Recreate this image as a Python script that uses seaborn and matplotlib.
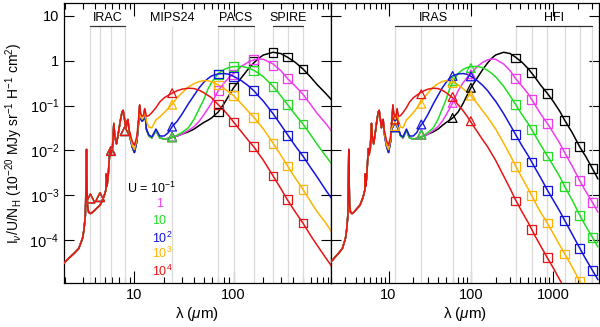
import numpy as np
import pandas as pd
import matplotlib
matplotlib.use('Agg')
import matplotlib.pyplot as plt
import seaborn as sns
from matplotlib.ticker import FixedLocator, FixedFormatter, NullFormatter, NullLocator, LogLocator

# radiation field intensities and their colours
u_names = ['U0.1', 'U1', 'U10', 'U1e2', 'U1e3', 'U1e4']
u_colors = ['#000000', '#f03cf0', '#22dd22', '#1414dc', '#ffb400', '#e61414']

# short-wavelength PAH spectrum (same for every U)
pah_lam = [1.87, 2.2, 2.5, 2.75, 3.0, 3.1, 3.2, 3.25, 3.29, 3.32, 3.36, 3.45, 3.6, 3.8, 4.0,
           4.5, 4.9, 5.15, 5.22, 5.3, 5.45, 5.6, 5.7, 5.8, 6.0, 6.1, 6.2, 6.35, 6.6, 6.9,
           7.2, 7.5, 7.7, 7.95, 8.2, 8.45, 8.6, 8.8]
pah_flux = [2.8e-5, 4.0e-5, 5.2e-5, 6.5e-5, 1.1e-4, 1.7e-4, 3.5e-4, 1.5e-3, 1.05e-2, 2.5e-3,
            6e-4, 4.2e-4, 3.9e-4, 4.2e-4, 4.7e-4, 6e-4, 9e-4, 1.3e-3, 3.0e-3, 1.6e-3,
            2.9e-3, 7e-3, 1.1e-2, 8e-3, 0.011, 0.02, 0.04, 0.02, 0.014, 0.025,
            0.045, 0.072, 0.078, 0.05, 0.032, 0.045, 0.049, 0.03]

# longer wavelengths, one column per U
lam_grid = [9.0, 9.5, 10, 10.6, 11.0, 11.3, 11.6, 12.0, 12.4, 12.7, 13.2, 14, 15, 16.5, 18, 20,
            22, 24, 27, 30, 35, 40, 45, 50, 55, 60, 70, 80, 90, 100, 120, 140, 160, 180, 200,
            250, 300, 350, 420, 500, 600, 700, 850, 1000, 1200, 1380, 1700, 2100, 2500, 3000, 3500]
flux_u01 = [0.02, 0.012, 0.009, 0.016, 0.04, 0.1, 0.05, 0.045, 0.05, 0.08, 0.03, 0.021, 0.019,
            0.028, 0.019, 0.018, 0.0185, 0.0195, 0.021, 0.023, 0.026, 0.03, 0.036, 0.042, 0.047,
            0.053, 0.072, 0.11, 0.17, 0.25, 0.42, 0.65, 0.9, 1.15, 1.35, 1.55, 1.45, 1.2, 0.92,
            0.66, 0.43, 0.29, 0.187, 0.125, 0.075, 0.047, 0.025, 0.012, 0.0072, 0.0039, 0.0023]
flux_u1 = [0.02, 0.012, 0.009, 0.016, 0.04, 0.1, 0.05, 0.045, 0.05, 0.08, 0.03, 0.021, 0.019,
           0.028, 0.019, 0.018, 0.0185, 0.0195, 0.021, 0.023, 0.028, 0.034, 0.045, 0.062, 0.085,
           0.115, 0.215, 0.32, 0.42, 0.52, 0.75, 0.93, 1.05, 1.1, 1.08, 0.85, 0.6, 0.4, 0.27,
           0.18, 0.105, 0.066, 0.04, 0.025, 0.0145, 0.0089, 0.0045, 0.0021, 0.0012, 0.00069, 0.00042]
flux_u10 = [0.02, 0.012, 0.009, 0.016, 0.04, 0.1, 0.05, 0.045, 0.05, 0.08, 0.03, 0.021, 0.019,
            0.028, 0.019, 0.018, 0.0185, 0.0195, 0.022, 0.025, 0.032, 0.05, 0.085, 0.136, 0.23,
            0.33, 0.52, 0.64, 0.71, 0.74, 0.75, 0.7, 0.61, 0.52, 0.44, 0.27, 0.165, 0.105, 0.062,
            0.039, 0.022, 0.0135, 0.0075, 0.0046, 0.0026, 0.00157, 0.00078, 0.00036, 0.0002,
            0.000115, 0.00007]
flux_u1e2 = [0.02, 0.012, 0.009, 0.016, 0.04, 0.1, 0.05, 0.045, 0.05, 0.08, 0.03, 0.022, 0.02,
             0.03, 0.021, 0.021, 0.025, 0.034, 0.045, 0.063, 0.11, 0.17, 0.25, 0.33, 0.4, 0.46,
             0.51, 0.52, 0.5, 0.45, 0.36, 0.28, 0.215, 0.16, 0.125, 0.066, 0.037, 0.0225, 0.0125,
             0.0075, 0.0041, 0.0025, 0.0013, 0.00078, 0.00044, 0.000274, 0.000135, 0.000066,
             0.000037, 0.000021, 0.000013]
flux_u1e3 = [0.022, 0.013, 0.0105, 0.018, 0.045, 0.1, 0.055, 0.05, 0.055, 0.082, 0.045, 0.033,
             0.032, 0.048, 0.056, 0.07, 0.087, 0.108, 0.15, 0.19, 0.26, 0.31, 0.345, 0.36, 0.36,
             0.34, 0.29, 0.24, 0.2, 0.167, 0.11, 0.075, 0.055, 0.04, 0.03, 0.0145, 0.0078, 0.0045,
             0.0024, 0.00136, 0.00071, 0.00042, 0.00024, 0.00014, 0.000077, 0.000049, 0.000025,
             0.000012, 0.0000068, 0.0000038, 0.0000024]
flux_u1e4 = [0.025, 0.016, 0.013, 0.021, 0.05, 0.105, 0.065, 0.058, 0.062, 0.086, 0.058, 0.06,
             0.07, 0.09, 0.12, 0.15, 0.17, 0.19, 0.215, 0.232, 0.245, 0.24, 0.22, 0.195, 0.17,
             0.15, 0.105, 0.078, 0.058, 0.043, 0.026, 0.017, 0.012, 0.0083, 0.006, 0.0027, 0.0014,
             0.00078, 0.00042, 0.00024, 0.000125, 0.000075, 0.00004, 0.000024, 0.000013,
             0.0000083, 0.0000043, 0.0000021, 0.0000012, 0.00000068, 0.0000004]

# band-integrated values (left: IRAC, MIPS24, PACS, SPIRE)
irac_lam = [3.6, 4.5, 5.8, 8.0]
irac_flux = [8.5e-4, 9.1e-4, 0.0097, 0.027]
mips_lam = [24]
mips_flux = [0.02, 0.0195, 0.0195, 0.034, 0.105, 0.19]
ps_lam = [70, 100, 160, 250, 350, 500]
ps_u01 = [0.072, 0.26, 0.97, 1.56, 1.21, 0.66]
ps_u1 = [0.215, 0.5, 1.05, 0.8, 0.4, 0.18]
ps_u10 = [0.5, 0.75, 0.6, 0.27, 0.105, 0.039]
ps_u1e2 = [0.51, 0.45, 0.215, 0.066, 0.0216, 0.0075]
ps_u1e3 = [0.29, 0.167, 0.055, 0.014, 0.0045, 0.00136]
ps_u1e4 = [0.105, 0.043, 0.012, 0.0027, 0.00079, 0.00024]

# right: IRAS, HFI
iras_lam = [12, 25, 60, 100]
iras_u01 = [0.033, 0.0227, 0.053, 0.25]
iras_u1 = [0.033, 0.0227, 0.115, 0.5]
iras_u10 = [0.033, 0.0227, 0.35, 0.69]
iras_u1e2 = [0.033, 0.038, 0.46, 0.45]
iras_u1e3 = [0.035, 0.11, 0.32, 0.167]
iras_u1e4 = [0.049, 0.18, 0.156, 0.045]
hfi_lam = [350, 550, 850, 1380, 2100, 3000]
hfi_u01 = [1.15, 0.55, 0.187, 0.047, 0.012, 0.0039]
hfi_u1 = [0.4, 0.136, 0.04, 0.0089, 0.0021, 0.00069]
hfi_u10 = [0.105, 0.029, 0.0075, 0.00157, 0.00036, 0.000115]
hfi_u1e2 = [0.0227, 0.0055, 0.0013, 0.000274, 0.000066, 0.000021]
hfi_u1e3 = [0.0044, 0.001, 0.00024, 0.000049, 0.000012, 0.0000038]
hfi_u1e4 = [0.00074, 0.00017, 0.00004, 0.000008, 0.000002, 0.00000065]

left_bands = [3.6, 4.5, 5.8, 8.0, 24, 70, 100, 160, 250, 350, 500]
right_bands = [12, 25, 60, 100, 350, 550, 850, 1380, 2100, 3000]

sns.set_style('ticks')
plt.rcParams['font.family'] = ['Liberation Sans', 'DejaVu Sans']
plt.rcParams['mathtext.fontset'] = 'custom'
plt.rcParams['mathtext.rm'] = 'Liberation Sans'
plt.rcParams['mathtext.it'] = 'Liberation Sans:italic'
plt.rcParams['text.color'] = 'black'
plt.rcParams['axes.labelcolor'] = 'black'

long_fluxes = [flux_u01, flux_u1, flux_u10, flux_u1e2, flux_u1e3, flux_u1e4]
frames = []
for name, fl in zip(u_names, long_fluxes):
    frames.append(pd.DataFrame({'lam': pah_lam + lam_grid, 'flux': pah_flux + fl, 'U': name}))
curves = pd.concat(frames, ignore_index=True)
palette = dict(zip(u_names, u_colors))

ps_all = [ps_u01, ps_u1, ps_u10, ps_u1e2, ps_u1e3, ps_u1e4]
iras_all = [iras_u01, iras_u1, iras_u10, iras_u1e2, iras_u1e3, iras_u1e4]
hfi_all = [hfi_u01, hfi_u1, hfi_u10, hfi_u1e2, hfi_u1e3, hfi_u1e4]

fig = plt.figure(figsize=(6.0, 3.27), dpi=100)
ax1 = fig.add_axes([64 / 600, 44 / 327, 267 / 600, 280 / 327])
ax2 = fig.add_axes([331 / 600, 44 / 327, 268 / 600, 280 / 327])

ymin, ymax = 1.1e-5, 19.5
bar_y = 6.0


def open_marks(ax, lam, vals, marker, color):
    sns.scatterplot(x=lam, y=vals, ax=ax, marker=marker, s=40, color=color,
                    facecolor='none', edgecolor=color, linewidth=0.9, zorder=4, legend=False)


def band_label(ax, lo, hi, text):
    if hi > lo:
        ax.plot([lo, hi], [bar_y, bar_y], color='#333333', lw=0.9, zorder=2)
    ax.text(np.sqrt(lo * hi), bar_y * 1.1, text, ha='center', va='bottom', fontsize=9)


for ax, bands, xlim in [(ax1, left_bands, (1.95, 960)), (ax2, right_bands, (2.0, 3600))]:
    ax.set_xscale('log')
    ax.set_yscale('log')
    ax.vlines(bands, ymin, bar_y, color='#dadada', lw=0.9, zorder=1)
    sns.lineplot(data=curves, x='lam', y='flux', hue='U', hue_order=u_names, palette=palette,
                 estimator=None, sort=False, legend=False, lw=1.1, ax=ax, zorder=3)
    ax.set_xlim(*xlim)
    ax.set_ylim(ymin, ymax)
    ax.yaxis.set_major_locator(FixedLocator([1e-4, 1e-3, 1e-2, 1e-1, 1, 10]))
    ax.yaxis.set_minor_locator(NullLocator())
    ax.xaxis.set_major_locator(FixedLocator([1, 10, 100, 1000]))
    ax.xaxis.set_minor_locator(LogLocator(base=10, subs=np.arange(2, 10)))
    ax.xaxis.set_minor_formatter(NullFormatter())
    ax.xaxis.set_major_formatter(FixedFormatter(['1', '10', '100', '1000']))
    ax.tick_params(which='both', direction='in', top=True, right=True, colors='black',
                   labelsize=10.5, width=0.8)
    ax.tick_params(axis='x', which='major', length=9)
    ax.tick_params(axis='x', which='minor', length=4.5)
    ax.tick_params(axis='y', which='major', length=7)
    for sp in ax.spines.values():
        sp.set_linewidth(0.9)
        sp.set_color('black')
    ax.set_xlabel('λ ($\\mu$m)', fontsize=11, labelpad=2)
    ax.set_ylabel('')

for i, col in enumerate(u_colors):
    open_marks(ax1, irac_lam, irac_flux, '^', col)
    open_marks(ax1, mips_lam, [mips_flux[i]], '^', col)
    open_marks(ax1, ps_lam, ps_all[i], 's', col)
    open_marks(ax2, iras_lam, iras_all[i], '^', col)
    open_marks(ax2, hfi_lam, hfi_all[i], 's', col)

ax1.yaxis.set_major_formatter(FixedFormatter(['10$^{-4}$', '10$^{-3}$', '10$^{-2}$',
                                              '10$^{-1}$', '1', '10']))
ax2.yaxis.set_major_formatter(NullFormatter())
ax1.set_ylabel(r'I$_\nu$/U/N$_{\rm H}$ (10$^{-20}$ MJy sr$^{-1}$ H$^{-1}$ cm$^2$)',
               fontsize=10, labelpad=3)

band_label(ax1, 3.6, 8.0, 'IRAC')
band_label(ax1, 24, 24, 'MIPS24')
band_label(ax1, 70, 160, 'PACS')
band_label(ax1, 250, 500, 'SPIRE')
band_label(ax2, 12, 100, 'IRAS')
band_label(ax2, 350, 3000, 'HFI')

# U legend written as coloured text
leg_text = ['U = 10$^{-1}$', '1', '10', '10$^2$', '10$^3$', '10$^4$']
leg_x = [0.237, 0.357, 0.331, 0.331, 0.331, 0.331]
leg_y = [0.339, 0.282, 0.221, 0.161, 0.104, 0.043]
leg_ha = ['left', 'center', 'left', 'left', 'left', 'left']
for t, x, y, ha, col in zip(leg_text, leg_x, leg_y, leg_ha, u_colors):
    ax1.text(x, y, t, transform=ax1.transAxes, color=col, ha=ha, va='center', fontsize=9)

fig.savefig('out.png', dpi=100)
